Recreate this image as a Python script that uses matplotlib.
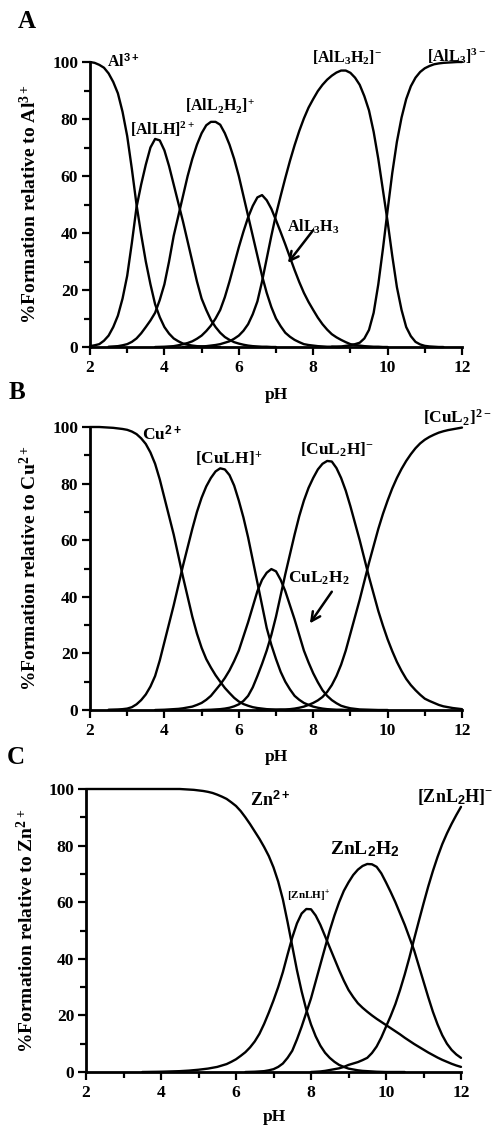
import numpy as np
import matplotlib
matplotlib.use("Agg")
import matplotlib.pyplot as plt
from matplotlib.ticker import MultipleLocator

plt.rcParams['font.family'] = ['Liberation Serif', 'DejaVu Serif']
plt.rcParams['font.weight'] = 'bold'
plt.rcParams['mathtext.fontset'] = 'custom'
plt.rcParams['mathtext.rm'] = 'Liberation Serif:bold'
plt.rcParams['mathtext.it'] = 'Liberation Serif:bold'
plt.rcParams['mathtext.bf'] = 'Liberation Serif:bold'
plt.rcParams['mathtext.sf'] = 'Liberation Sans:bold'

# Each curve every 0.125 pH unit, starting at the given pH
STEP = 0.125

# ---------------- Panel A : Al(III) ----------------
al_free_start = 2.0
al_free = [100, 99.7, 99, 98, 96, 93, 89, 82.5, 74, 62.5, 50, 39.5, 30, 22, 15, 10.5, 7, 4.7,
           3, 2, 1.2, 0.8, 0.5, 0.3, 0.2, 0.1, 0.1, 0, 0]
al_LH_start = 2.0
al_LH = [0.3, 0.6, 1, 2.2, 4, 7, 11, 17, 25, 36.5, 49, 57, 64, 70, 73, 72.5, 69, 63.5, 57, 50.5,
         44, 37, 30, 23, 17, 13, 9.5, 7, 5, 3.5, 2.5, 1.7, 1.2, 0.8, 0.5, 0.3, 0.2, 0.1, 0.1, 0, 0]
al_L2H2_start = 2.5
al_L2H2 = [0.1, 0.2, 0.3, 0.6, 1, 1.8, 3, 4.8, 7, 9.3, 12, 16.5, 22, 30, 39, 46, 53, 60, 66, 71,
           75, 77.8, 79, 79, 78, 75, 71, 66, 60, 53, 46, 39, 32, 25, 19, 14, 10, 7.3, 5, 3.6,
           2.5, 1.7, 1, 0.7, 0.5, 0.3, 0.2, 0.1, 0.1, 0, 0]
al_L3H3_start = 3.75
al_L3H3 = [0, 0.05, 0.1, 0.2, 0.3, 0.6, 1, 1.4, 2, 2.9, 4, 5.6, 7.5, 10, 13, 17.5, 23, 29, 35,
           40.5, 45.5, 49.5, 52.5, 53.3, 51.5, 48.5, 44.5, 40.3, 36, 31.5, 27, 22.8, 19, 15.8,
           13, 10.3, 8, 6.1, 4.5, 3.4, 2.5, 1.7, 1, 0.7, 0.5, 0.3, 0.2, 0.1, 0.1, 0, 0]
al_L3H2_start = 4.5
al_L3H2 = [0, 0.05, 0.1, 0.15, 0.2, 0.3, 0.5, 0.7, 1, 1.5, 2, 2.9, 4, 5.7, 8, 11.5, 16, 23, 31,
           39, 46.5, 53, 59.3, 65.3, 70.8, 75.8, 80.2, 84, 87, 89.8, 92, 93.8, 95.2, 96.3, 97, 97,
           96.2, 94.5, 92, 88, 83, 75.5, 66, 55, 44, 32, 21, 13, 7, 3.8, 1.8, 0.9, 0.4, 0.2, 0.1,
           0, 0]
al_L3_start = 8.5
al_L3 = [0.1, 0.15, 0.2, 0.4, 0.6, 1, 1.5, 3, 6, 12, 22, 34.5, 48, 61, 72, 80.5, 87, 91.5,
         94.5, 96.5, 97.8, 98.6, 99.2, 99.5, 99.7, 99.8, 99.9, 100, 100]

# ---------------- Panel B : Cu(II) ----------------
cu_free_start = 2.0
cu_free = [100, 100, 100, 99.9, 99.8, 99.7, 99.5, 99.3, 99, 98.4, 97.5, 96, 94, 91, 87, 81.5,
           75, 68.5, 62, 54.5, 47, 40, 33, 27, 22, 18, 15, 12.3, 10, 7.8, 6, 4.3, 3, 2.1, 1.5,
           1, 0.7, 0.5, 0.3, 0.2, 0.1, 0.1, 0, 0, 0]
cu_LH_start = 2.5
cu_LH = [0.1, 0.15, 0.2, 0.3, 0.5, 1, 2, 3.5, 5.5, 8.3, 12, 17.5, 24, 30.5, 37, 44, 51, 57.5,
         64, 70, 75, 79, 82, 84.3, 85.4, 85, 83, 79.3, 74, 68, 61, 53, 45, 37, 29, 23, 18, 13.5,
         10, 7.3, 5, 3.6, 2.5, 1.8, 1.2, 0.8, 0.5, 0.3, 0.2, 0.1, 0.1, 0, 0]
cu_L2H2_start = 3.75
cu_L2H2 = [0, 0.05, 0.1, 0.2, 0.3, 0.4, 0.6, 0.9, 1.2, 1.8, 2.5, 3.6, 5, 7, 9, 11.3, 14, 17.3,
           21, 26, 31, 36.5, 42, 46, 48.5, 49.8, 49, 46, 42, 37, 32, 26.5, 21, 16.8, 13, 9.8, 7,
           5, 3.5, 2.4, 1.5, 1, 0.6, 0.4, 0.2, 0.15, 0.1, 0.05, 0, 0, 0]
cu_L2H_start = 5.0
cu_L2H = [0, 0.05, 0.1, 0.2, 0.3, 0.5, 0.8, 1.3, 2, 3.2, 5, 8, 12, 16.3, 21, 26.5, 33, 40.5, 48,
          55, 62, 68.5, 74, 78.5, 82, 85, 87, 88, 87.8, 85.5, 82, 77.5, 72, 66, 60, 53.5, 47, 41,
          35, 29.8, 25, 20.8, 17, 13.8, 11, 8.8, 7, 5.4, 4, 3.2, 2.5, 1.8, 1.3, 1, 0.7, 0.5, 0.3]
cu_L2_start = 6.5
cu_L2 = [0, 0.03, 0.05, 0.08, 0.1, 0.15, 0.2, 0.3, 0.5, 0.8, 1.2, 1.8, 2.5, 3.4, 4.6, 6.4, 8.8,
         12, 16, 21, 27, 33, 39, 45.5, 52, 58, 64, 69.3, 74, 78.3, 82, 85.2, 88, 90.4, 92.5, 94.2,
         95.5, 96.5, 97.3, 98, 98.5, 98.9, 99.2, 99.5, 99.8]

# ---------------- Panel C : Zn(II) ----------------
zn_free_start = 2.0
zn_free = [100, 100, 100, 100, 100, 100, 100, 100, 100, 100, 100, 100, 100, 100, 100, 100, 100,
           100, 100, 100, 100, 99.9, 99.8, 99.7, 99.5, 99.3, 99, 98.6, 98, 97.3, 96.5, 95.3, 94,
           92.2, 90, 87.6, 85, 82.4, 79.5, 76.3, 72.3, 67.3, 61, 53, 44.5, 36, 28.5, 22, 16.8,
           12.6, 9.3, 6.8, 5, 3.6, 2.5, 1.8, 1.2, 0.9, 0.6, 0.4, 0.3, 0.2, 0.1, 0.05, 0, 0, 0,
           0, 0]
zn_LH_start = 3.5
zn_LH = [0, 0.02, 0.05, 0.07, 0.1, 0.15, 0.2, 0.25, 0.3, 0.4, 0.5, 0.65, 0.8, 1, 1.2, 1.5, 1.8,
         2.3, 2.8, 3.6, 4.5, 5.7, 7, 8.7, 10.8, 13.5, 17, 21, 25.3, 30, 35.3, 41.5, 47.5, 52.5,
         56, 57.6, 57.5, 55.3, 52, 48, 44, 40, 36, 32.3, 29, 26.5, 24.3, 22.7, 21.3, 20, 18.8,
         17.7, 16.6, 15.5, 14.4, 13.3, 12.1, 11, 9.9, 8.9, 7.9, 6.9, 6, 5.1, 4.3, 3.6, 2.9,
         2.3, 1.8]
zn_L2H2_start = 6.25
zn_L2H2 = [0, 0.05, 0.1, 0.2, 0.3, 0.6, 1, 1.8, 3, 5, 7.5, 11.5, 16, 21, 26, 32, 38, 44, 50,
           55.3, 60, 64, 67, 69.6, 71.5, 72.8, 73.5, 73.4, 72.5, 70.2, 67, 63.6, 60, 56, 52,
           47.5, 43, 37.5, 32, 26.5, 21.3, 16.8, 13, 10, 7.8, 6.2, 5]
zn_L2H_start = 8.0
zn_L2H = [0, 0.1, 0.2, 0.4, 0.7, 1, 1.3, 1.8, 2.5, 3, 3.5, 4.2, 5, 6.7, 9, 12.2, 16, 19.8, 24,
          29, 34.5, 40.5, 47, 53.3, 59.5, 65.5, 71, 76, 80.5, 84.3, 87.7, 90.8, 93.7]

xticks = [2, 4, 6, 8, 10, 12]
yticks = [0, 20, 40, 60, 80, 100]

W, H = 495, 1128
fig = plt.figure(figsize=(W / 100, H / 100), dpi=100)


def make_axes(x0, x1, y_top, y_bot):
    return fig.add_axes([x0 / W, 1 - y_bot / H, (x1 - x0) / W, (y_bot - y_top) / H])


def style(ax):
    ax.set_xlim(2, 12)
    ax.set_ylim(0, 100)
    for s in ['top', 'right']:
        ax.spines[s].set_visible(False)
    for s in ['left', 'bottom']:
        ax.spines[s].set_linewidth(2.0)
    ax.set_xticks(xticks)
    ax.set_yticks(yticks)
    ax.xaxis.set_minor_locator(MultipleLocator(1))
    ax.yaxis.set_minor_locator(MultipleLocator(10))
    ax.tick_params(which='major', length=5.5, width=1.6, labelsize=12.5, direction='out')
    ax.tick_params(which='minor', length=4, width=1.6, direction='out')
    ax.tick_params(axis='y', pad=3)
    ax.tick_params(axis='x', pad=4)
    for lab in ax.get_xticklabels() + ax.get_yticklabels():
        lab.set_fontweight('bold')


def curve(ax, start, values):
    x = start + STEP * np.arange(len(values))
    ax.plot(x, values, color='black', lw=1.7, clip_on=False,
            solid_capstyle='round', solid_joinstyle='round')


# Panel A
axA = make_axes(90, 462, 62, 347)
style(axA)
for st, v in [(al_free_start, al_free), (al_LH_start, al_LH), (al_L2H2_start, al_L2H2),
              (al_L3H3_start, al_L3H3), (al_L3H2_start, al_L3H2), (al_L3_start, al_L3)]:
    curve(axA, st, v)
fsA = 11.5
axA.text(2.46, 100, r"Al$^{\mathsf{3+}}$", fontsize=fsA, va='center', ha='left')
axA.text(3.08, 76.3, r"[AlLH]$^{2+}$", fontsize=fsA, va='center', ha='left')
axA.text(4.55, 84.6, r"[AlL$_2$H$_2$]$^{+}$", fontsize=fsA, va='center', ha='left')
axA.text(7.3, 42.1, r"AlL$_3$H$_3$", fontsize=fsA, va='center', ha='left')
axA.text(7.97, 101.6, r"[AlL$_3$H$_2$]$^{-}$", fontsize=fsA, va='center', ha='left', clip_on=False)
axA.text(11.06, 102, r"[AlL$_3$]$^{3-}$", fontsize=fsA, va='center', ha='left', clip_on=False)
axA.annotate('', xy=(7.32, 29.5), xytext=(8.0, 41),
             arrowprops=dict(arrowstyle='->', lw=1.8, color='black', mutation_scale=16,
                             shrinkA=0, shrinkB=0))

# Panel B
axB = make_axes(90, 462, 427, 710)
style(axB)
for st, v in [(cu_free_start, cu_free), (cu_LH_start, cu_LH), (cu_L2H2_start, cu_L2H2),
              (cu_L2H_start, cu_L2H), (cu_L2_start, cu_L2)]:
    curve(axB, st, v)
fsB = 12.5
axB.text(3.4, 97.3, r"Cu$^{\mathsf{2+}}$", fontsize=fsB, va='center', ha='left')
axB.text(4.82, 88.7, r"[CuLH]$^{+}$", fontsize=fsB, va='center', ha='left')
axB.text(7.65, 91.9, r"[CuL$_2$H]$^{-}$", fontsize=fsB, va='center', ha='left')
axB.text(10.95, 103.4, r"[CuL$_2$]$^{2-}$", fontsize=fsB, va='center', ha='left', clip_on=False)
axB.text(7.33, 46.6, r"CuL$_2$H$_2$", fontsize=fsB, va='center', ha='left')
axB.annotate('', xy=(7.91, 30.6), xytext=(8.5, 41.8),
             arrowprops=dict(arrowstyle='->', lw=1.8, color='black', mutation_scale=16,
                             shrinkA=0, shrinkB=0))

# Panel C
axC = make_axes(86, 461, 789, 1072)
style(axC)
for st, v in [(zn_free_start, zn_free), (zn_LH_start, zn_LH), (zn_L2H2_start, zn_L2H2),
              (zn_L2H_start, zn_L2H)]:
    curve(axC, st, v)
fsC = 13
axC.text(6.37, 96.1, r"Zn$^{\mathsf{2+}}$", fontsize=fsC, va='center', ha='left')
axC.text(10.83, 97.3, r"[ZnL$_\mathsf{2}$H]$^{-}$", fontsize=fsC, va='center', ha='left', clip_on=False)
axC.text(8.51, 78.8, r"ZnL$_\mathsf{2}$H$_\mathsf{2}$", fontsize=fsC + 1, va='center', ha='left')
axC.text(7.36, 62.2, r"[ZnLH]$^{+}$", fontsize=8, va='center', ha='left')

# axis titles
ylabels = [(29.5, 204.5, r"%Formation relative to Al$^{3+}$"),
           (29.5, 568.5, r"%Formation relative to Cu$^{2+}$"),
           (26.5, 930.5, r"%Formation relative to Zn$^{2+}$")]
for x, y, t in ylabels:
    fig.text(x / W, 1 - y / H, t, rotation=90, fontsize=14, ha='center', va='center')

for x, y in [(276, 395), (276, 757), (274, 1117)]:
    fig.text(x / W, 1 - y / H, "pH", fontsize=12.5, ha='center', va='center')

for x, y, t in [(27, 21.5, "A"), (17, 392.5, "B"), (16, 757, "C")]:
    fig.text(x / W, 1 - y / H, t, fontsize=18, ha='center', va='center')

fig.savefig("out.png", dpi=100)
